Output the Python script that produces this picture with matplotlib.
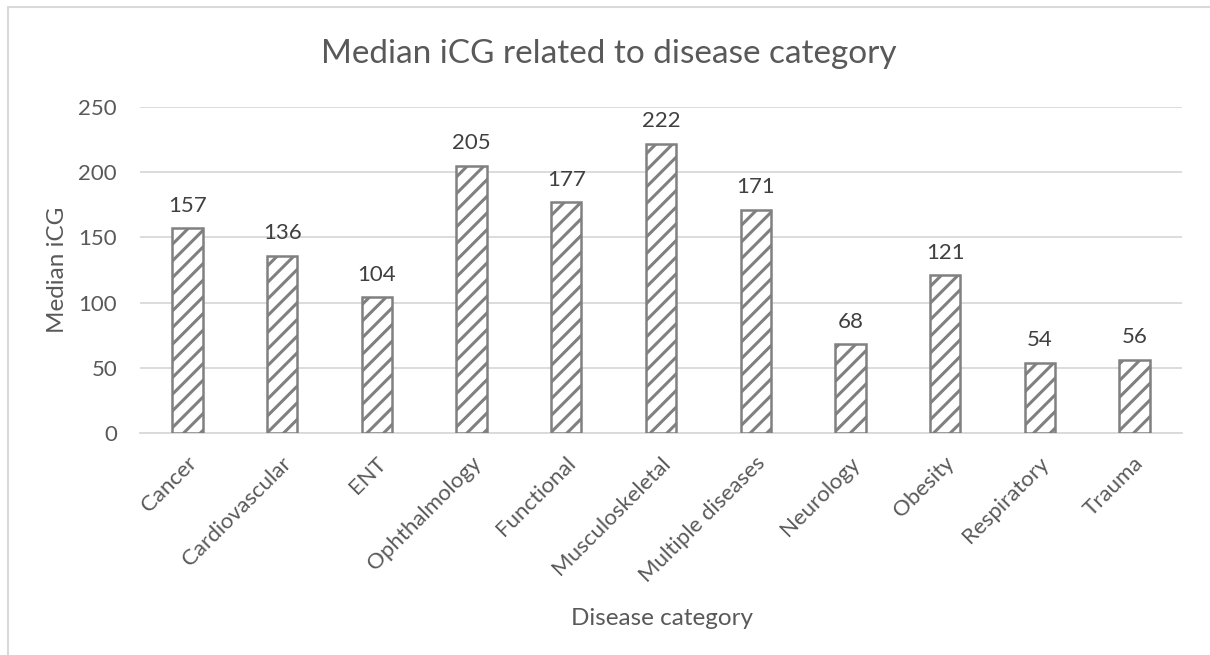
import matplotlib.pyplot as plt
import matplotlib.patches as patches
from matplotlib.transforms import ScaledTranslation

categories = ["Cancer", "Cardiovascular", "ENT", "Ophthalmology", "Functional",
              "Musculoskeletal", "Multiple diseases", "Neurology", "Obesity",
              "Respiratory", "Trauma"]
median_icg = [157, 136, 104, 205, 177, 222, 171, 68, 121, 54, 56]
yticks = [0, 50, 100, 150, 200, 250]

text_color = "#595959"
grid_color = "#D9D9D9"
bar_color = "#808080"

plt.rcParams["font.family"] = ["Lato", "DejaVu Sans"]
plt.rcParams["hatch.linewidth"] = 2.2
plt.rcParams["hatch.color"] = bar_color

W, H = 1210, 655
fig = plt.figure(figsize=(W / 100, H / 100), dpi=100)
# plot area in pixels: x 140..1182, y 107..433
ax = fig.add_axes([140 / W, 1 - 433 / H, 1042 / W, 326 / H])

# outer chart border (left/top visible in the reference)
fig.patches.append(patches.Rectangle((8 / W, -0.1), 1.2, 1 - 7 / H + 0.1,
                                     transform=fig.transFigure, fill=False,
                                     edgecolor=grid_color, linewidth=1.5))

x = list(range(len(categories)))
bars = ax.bar(x, median_icg, width=0.32, facecolor="white", edgecolor=bar_color,
              hatch="//", linewidth=1.8, zorder=3)
for b, v in zip(bars, median_icg):
    ax.annotate(str(v), (b.get_x() + b.get_width() / 2, v), xytext=(0, 12),
                textcoords="offset points", ha="center", va="baseline",
                fontsize=16, color="#404040")

ax.set_xlim(-0.5, len(categories) - 0.5)
ax.set_ylim(0, 250)
ax.set_yticks(yticks)
ax.grid(axis="y", color=grid_color, linewidth=1.3, zorder=0)
ax.set_xticks(x)
ax.set_xticklabels(categories, rotation=45, ha="right", va="center",
                   rotation_mode="anchor", fontsize=16, color=text_color)
ax.tick_params(axis="y", labelsize=16, labelcolor=text_color, length=0, pad=16.5)
ax.tick_params(axis="x", length=0, pad=19.5)
shift = ScaledTranslation(6 / 100, 0, fig.dpi_scale_trans)
for lab in ax.get_xticklabels():
    lab.set_transform(lab.get_transform() + shift)
for s in ["top", "right", "left"]:
    ax.spines[s].set_visible(False)
ax.spines["bottom"].set_color(grid_color)
ax.spines["bottom"].set_linewidth(1.3)

fig.text(58 / W, 1 - 270 / H, "Median iCG", rotation=90, ha="center", va="center",
         fontsize=17.5, color=text_color)
fig.text(662 / W, 1 - 625 / H, "Disease category", ha="center", va="baseline",
         fontsize=17.5, color=text_color)
fig.text(609 / W, 1 - 63 / H, "Median iCG related to disease category", ha="center",
         va="baseline", fontsize=24, color=text_color)

fig.savefig("out.png", dpi=100, facecolor="white")
